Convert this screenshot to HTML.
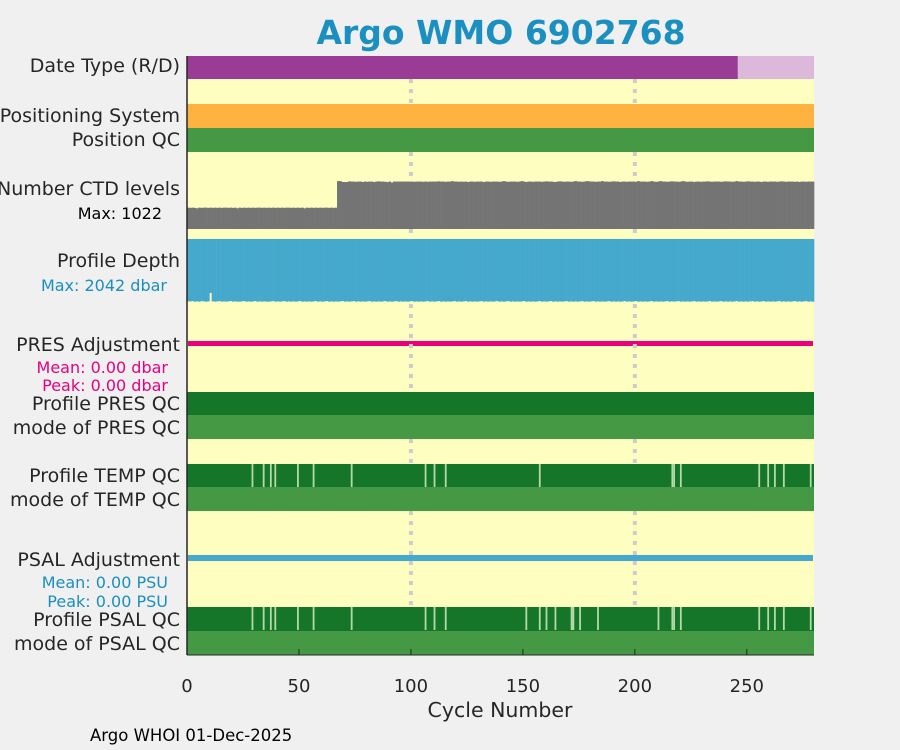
<!DOCTYPE html>
<html><head><meta charset="utf-8"><style>
body{margin:0;background:#f0f0f0;}
svg{display:block;font-family:"DejaVu Sans","Liberation Sans",sans-serif;}
</style></head><body>
<svg id="c" width="900" height="750">
<rect x="0" y="0" width="900" height="750" fill="#f0f0f0"/>
<text x="501" y="44" text-anchor="middle" font-size="33" font-weight="bold" fill="#1a8fc0">Argo WMO 6902768</text>
<rect x="187" y="56" width="627" height="599" fill="#fefec0"/>
<g id="marks"></g>
<g id="grid"></g>
<line x1="187" y1="56" x2="187" y2="655" stroke="#262626" stroke-width="1.5"/>
<line x1="187" y1="655" x2="814" y2="655" stroke="#262626" stroke-width="1"/>
<g id="ticks"></g>
<g font-size="19" fill="#262626" text-anchor="end">
<text x="180" y="72">Date Type (R/D)</text>
<text x="180" y="122">Positioning System</text>
<text x="180" y="146">Position QC</text>
<text x="180" y="195">Number CTD levels</text>
<text x="162" y="219" font-size="16" fill="#000">Max: 1022</text>
<text x="180" y="267">Profile Depth</text>
<text x="167" y="291" font-size="16" fill="#1a8fc0">Max: 2042 dbar</text>
<text x="180" y="351">PRES Adjustment</text>
<text x="168" y="373" font-size="16" fill="#e8007f">Mean: 0.00 dbar</text>
<text x="168" y="391" font-size="16" fill="#e8007f">Peak: 0.00 dbar</text>
<text x="180" y="410">Profile PRES QC</text>
<text x="180" y="434">mode of PRES QC</text>
<text x="180" y="482">Profile TEMP QC</text>
<text x="180" y="506">mode of TEMP QC</text>
<text x="180" y="566">PSAL Adjustment</text>
<text x="168" y="588" font-size="16" fill="#1a8fc0">Mean: 0.00 PSU</text>
<text x="168" y="607" font-size="16" fill="#1a8fc0">Peak: 0.00 PSU</text>
<text x="180" y="626">Profile PSAL QC</text>
<text x="180" y="650">mode of PSAL QC</text>
</g>
<text x="500" y="717" text-anchor="middle" font-size="20.5" fill="#262626">Cycle Number</text>
<text x="90" y="741" font-size="16.5" fill="#000">Argo WHOI 01-Dec-2025</text>
</svg>
<script>
const xTicks=[0,50,100,150,200,250];
const gridCycles=[100,200];
const nCycles=280;
const delayedFrom=246;
const tempGaps=[28.7,33.7,36.9,38.9,49,56,73,106,110,115,157,216.2,217,220,255,259,262,266,278];
const psalGaps=[28.7,33.7,36.9,38.9,49,56,73,106,110,115,151,157,160,164,171.2,172,175,183,210,216.2,217,220,255,259,262,266,278];
const ctdLow=[455,450,455,450,440,455,450,455,455,450,455,450,455,450,455,450,455,455,450,455,450,455,440,455,450,455,450,455,450,455,450,455,455,450,455,450,455,450,455,450,455,450,455,450,455,455,450,455,450,455,450,455,440,455,450,455,450,455,450,455,450,455,455,450,455,450,455];
const ctdHigh=[1020,1020,1000,1000,1000,1015,1010,1010,1005,1010,1010,1000,1010,1005,1010,1010,1000,1010,1015,1010,1010,1005,1000,1010,990,1010,1010,1010,1010,1010,1010,1010,1010,1010,1005,1010,1010,1010,1005,1010,1005,1010,1010,1010,1010,1015,1010,1010,1005,1010,1010,1020,1010,1010,1005,1010,1005,1010,1000,1010,1010,1005,1010,1010,1010,1000,1010,1010,1005,1010,1010,1010,1005,1010,1020,1010,1005,1010,1010,1010,1005,1010,1020,1010,1000,1010,1010,1005,1010,1010,1010,1005,1010,1015,1010,1010,1005,1000,1010,1015,1010,1005,1010,1010,1005,1010,1020,1010,1010,1005,1010,1020,1015,1010,1010,1005,1010,1010,1020,1010,1010,1005,1010,1015,1010,1010,1000,1010,1010,1005,1010,1010,1010,1005,1020,1010,1010,1010,1005,1010,1020,1010,1005,1010,1020,1010,1010,1005,1010,1015,1010,1010,1005,1010,1020,1010,1005,1010,1010,1000,1010,1010,1005,1010,1010,1015,1010,1005,1010,1010,1010,1005,1010,1015,1010,1010,1005,1010,1020,1010,1010,1005,1010,1015,1010,1010,1005,1010,1010,1000,1010,1010,1005,1010,1010,1010,1005,1010,1015,1010,1005,1010,1010,1010,1005,1010,1000,1010,1010,1005,1010,1010,1010,1000];
const depthVals=[1990,1990,1980,2000,1990,2000,1980,1990,2000,1990,1720,1990,2000,1990,1980,2000,1990,2000,1990,1980,2000,1990,2000,2000,1990,1980,2000,1990,2000,1990,1980,2000,1990,2000,1990,2000,2000,1990,1980,2000,1990,2000,1990,1980,2000,1990,2000,1990,2000,1990,1980,2000,1990,2000,1990,2000,1990,1980,2000,1990,2000,1990,1980,2000,1990,2000,1990,2000,1990,1980,2000,1990,2000,1990,1980,2000,1990,2000,1990,2000,1990,1980,2000,1990,2000,1990,2000,1990,1980,2000,1990,2000,1990,1980,2000,1990,2000,1990,2000,1990,1980,2000,1990,2000,1990,2000,1990,1980,2000,1990,2000,1990,1980,2000,1990,2000,1990,2000,1990,1980,2000,1990,2000,1990,1980,2000,1990,2000,1990,2000,1990,1980,2000,1990,2000,1990,2000,1990,1980,2000,1990,2000,1990,1980,2000,1990,2000,1990,2000,1990,1980,2000,1990,2000,1990,2000,1990,1980,2000,1990,2000,1990,1980,2000,1990,2000,1990,2000,1990,1980,2000,1990,2000,1990,2000,1990,1980,2000,1990,2000,1990,1980,2000,1990,2000,1990,2000,1990,1980,2000,1990,2000,1990,2000,1990,1980,2000,1990,2000,1990,1980,2000,1990,2000,1990,2000,1990,1980,2000,1990,2000,1990,2000,1990,1980,2000,1990,2000,1990,1980,2000,1990,2000,1990,2000,1990,1980,2000,1990,2000,1990,2000,1990,1980,2000,1990,2000,1990,1980,2000,1990,2000,1990,2000,1990,1980,2000,1990,2000,1990,2000,1990,1980,2000,1990,2000,1990,1980,2000,1990,2000,1990,2000,1990,1980,2000,1990,2000,1990,2000,1990,1980,2000,1990,2000,1990,1980,2000,1990,2000,1990,1990];
const ctdMax=1022, depthMax=2042;
const NS="http://www.w3.org/2000/svg";
const X0=187,X1=814,XMAX=280;
function x(c){return X0+c/XMAX*(X1-X0);}
function mk(tag,attrs,parent){const e=document.createElementNS(NS,tag);for(const k in attrs)e.setAttribute(k,attrs[k]);parent.appendChild(e);return e;}
const M=document.getElementById('marks');
let r;
r=mk('rect',{x:x(0),y:56,width:x(delayedFrom)-x(0),height:23,fill:'#9a3b96'},M);


r=mk('rect',{x:x(delayedFrom),y:56,width:x(nCycles)-x(delayedFrom),height:23,fill:'#dcb8da'},M);


const solid=[['positioning-system-bar',104,'#feb341'],['position-qc-bar',128,'#459945'],['profile-pres-qc-bar',392,'#157629'],['mode-pres-qc-bar',415,'#459945'],['profile-temp-qc-bar',464,'#157629'],['mode-temp-qc-bar',487,'#459945'],['profile-psal-qc-bar',607,'#157629'],['mode-psal-qc-bar',631,'#459945']];
solid.forEach(s=>{r=mk('rect',{x:x(0),y:s[1],width:x(nCycles)-x(0),height:24,fill:s[2]},M);

});
function gaps(arr,y,name){arr.forEach(c=>{r=mk('rect',{x:x(c)+0.3,y:y,width:1.8,height:23,fill:'#b5d8a8'},M);

});}
gaps(tempGaps,464,'temp-qc-gap');
gaps(psalGaps,607,'psal-qc-gap');
const ctd=ctdLow.concat(ctdHigh);
ctd.forEach((v,i)=>{if(i>=nCycles)return;const h=v/ctdMax*48;r=mk('rect',{x:x(i),y:229-h,width:x(i+1)-x(i)+0.3,height:h,fill:'#747474'},M);

});
depthVals.forEach((v,i)=>{if(i>=nCycles)return;const h=v/depthMax*64;r=mk('rect',{x:x(i),y:239,width:x(i+1)-x(i)+0.3,height:h,fill:'#44a9cc'},M);

});
r=mk('rect',{x:x(0)+1,y:341,width:x(nCycles)-x(0)-2,height:5,fill:'#e8007f'},M);


r=mk('rect',{x:x(0)+1,y:555,width:x(nCycles)-x(0)-2,height:6,fill:'#44a9cc'},M);


const G=document.getElementById('grid');
const yellowBands=[[79,104],[152,181],[229,239],[304,392],[439,464],[511,607]];
gridCycles.forEach(c=>{yellowBands.forEach(b=>{const l=mk('line',{x1:x(c),x2:x(c),y1:b[0],y2:b[1],stroke:'#cccccc','stroke-width':4,'stroke-dasharray':'4,6'},G);

});});
const T=document.getElementById('ticks');
xTicks.forEach(c=>{const l=mk('line',{x1:x(c),x2:x(c),y1:655,y2:649,stroke:'#262626'},T);


const t=mk('text',{x:x(c),y:692,'text-anchor':'middle','font-size':18,fill:'#262626'},T);t.textContent=c;

});
</script>
</body></html>
